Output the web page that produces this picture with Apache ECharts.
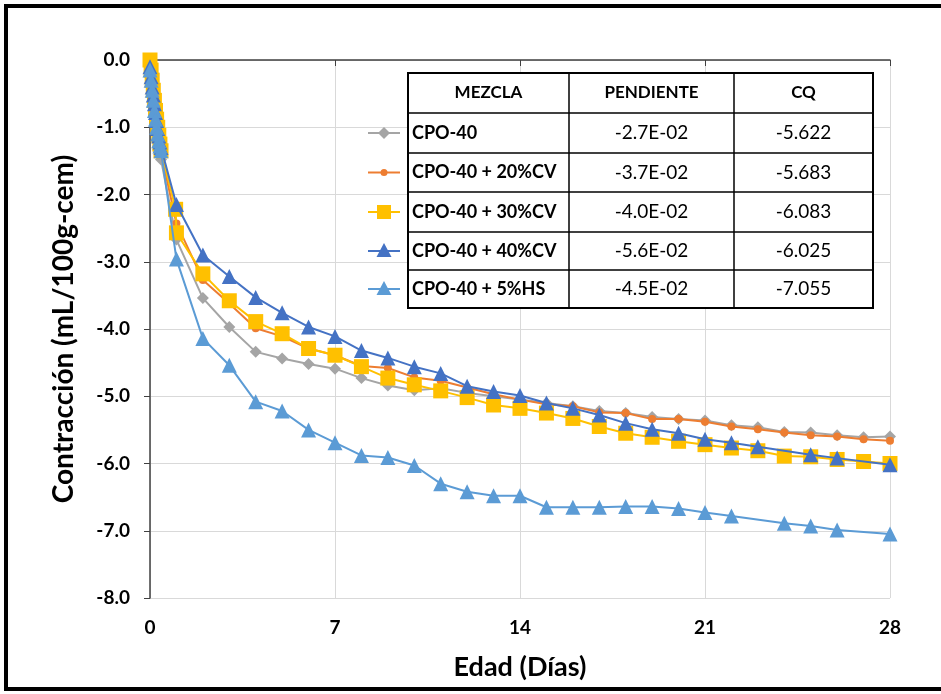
<!DOCTYPE html>
<html><head><meta charset="utf-8">
<script src="https://cdn.jsdelivr.net/npm/echarts@6/dist/echarts.min.js"></script>
<style>html,body{margin:0;padding:0;background:#fff}#c{width:941px;height:694px}</style>
</head><body><div id="c"></div>
<script>
// ---- data ----
const seriesNames = ['CPO-40','CPO-40 + 20%CV','CPO-40 + 30%CV','CPO-40 + 40%CV','CPO-40 + 5%HS'];
const earlyDays = [0,0.042,0.083,0.125,0.167,0.208,0.25,0.292,0.333,0.375,0.417];
const days = [1,2,3,4,5,6,7,8,9,10,11,12,13,14,15,16,17,18,19,20,21,22,23,24,25,26,27,28];

const grayEarly   = [-0.05,-0.2,-0.35,-0.5,-0.65,-0.8,-0.95,-1.1,-1.25,-1.38,-1.48];
const grayDays    = [-2.67,-3.54,-3.97,-4.34,-4.44,-4.52,-4.59,-4.73,-4.84,-4.91,-4.88,-4.95,-5.00,-5.05,-5.10,-5.15,-5.22,-5.25,-5.31,-5.34,-5.36,-5.43,-5.46,-5.53,-5.54,-5.58,-5.61,-5.60];

const orangeEarly = [-0.05,-0.18,-0.33,-0.48,-0.62,-0.77,-0.9,-1.03,-1.17,-1.28,-1.38];
const orangeDays  = [-2.43,-3.27,-3.62,-3.99,-4.11,-4.29,-4.39,-4.55,-4.58,-4.72,-4.77,-4.87,-4.97,-5.05,-5.12,-5.15,-5.24,-5.25,-5.34,-5.34,-5.38,-5.45,-5.49,-5.54,-5.58,-5.60,-5.64,-5.66];

const yellowEarly = [0,-0.15,-0.3,-0.45,-0.6,-0.75,-0.88,-1.0,-1.12,-1.25,-1.35];
const yellowExtraDay = 0.97, yellowExtraVal = -2.22;
const yellowDays  = [-2.57,-3.18,-3.58,-3.89,-4.07,-4.29,-4.39,-4.56,-4.73,-4.83,-4.92,-5.02,-5.13,-5.18,-5.25,-5.33,-5.45,-5.55,-5.61,-5.67,-5.72,-5.77,-5.81,-5.89,-5.90,-5.94,-5.97,-6.00];

const dblueEarly  = [-0.1,-0.25,-0.4,-0.52,-0.65,-0.78,-0.9,-1.02,-1.13,-1.22,-1.3];
// null = no measurement shown at that day
const dblueDays   = [-2.15,-2.90,-3.22,-3.53,-3.76,-3.97,-4.11,-4.32,-4.43,-4.56,-4.66,-4.85,-4.93,-4.99,-5.10,-5.18,-5.28,-5.40,-5.49,-5.55,-5.64,-5.69,-5.75,null,-5.87,-5.92,null,-6.02];

const lblueEarly  = [-0.15,-0.3,-0.45,-0.6,-0.75,-0.88,-1.0,-1.1,-1.2,-1.28,-1.35];
const lblueDays   = [-2.96,-4.14,-4.54,-5.08,-5.22,-5.50,-5.69,-5.88,-5.91,-6.03,-6.30,-6.42,-6.48,-6.48,-6.65,-6.65,-6.65,-6.64,-6.64,-6.67,-6.73,-6.78,null,-6.89,-6.93,-6.99,null,-7.05];

const tableHeader = ['MEZCLA','PENDIENTE','CQ'];
const pendiente = ['-2.7E-02','-3.7E-02','-4.0E-02','-5.6E-02','-4.5E-02'];
const cq = ['-5.622','-5.683','-6.083','-6.025','-7.055'];

const yTicks = {min:-8, max:0, interval:1};
const xTicks = {min:0, max:28, interval:7};

// ---- build ----
function pts(early, dayVals, extra){
  const out = [];
  early.forEach((v,i)=>out.push([earlyDays[i], v]));
  if (extra) out.push(extra);
  dayVals.forEach((v,i)=>{ if (v !== null) out.push([days[i], v]); });
  return out;
}
const FONT = 'Lato, "Open Sans", sans-serif';
const styles = [
  {color:'#A5A5A5', symbol:'diamond', size:12},
  {color:'#ED7D31', symbol:'circle', size:8},
  {color:'#FFC000', symbol:'rect', size:15},
  {color:'#4472C4', symbol:'triangle', size:15},
  {color:'#5B9BD5', symbol:'triangle', size:15}
];
const dataSets = [
  pts(grayEarly, grayDays),
  pts(orangeEarly, orangeDays),
  pts(yellowEarly, yellowDays, [yellowExtraDay, yellowExtraVal]),
  pts(dblueEarly, dblueDays),
  pts(lblueEarly, lblueDays)
];
const series = seriesNames.map((n,i)=>({
  name:n, type:'line', data:dataSets[i],
  symbol:styles[i].symbol, symbolSize:styles[i].size,
  lineStyle:{color:styles[i].color, width:2},
  itemStyle:{color:styles[i].color},
  animation:false, z:2+i
}));

// table graphics
const colX = [408,569,734,873];
const rowY = [73,113,153,192,232,270,308];
const g = [];
g.push({type:'rect', shape:{x:6,y:6,width:980,height:683}, style:{fill:null, stroke:'#000', lineWidth:4}, z:100});
g.push({type:'rect', shape:{x:colX[0],y:rowY[0],width:colX[3]-colX[0],height:rowY[6]-rowY[0]}, style:{fill:'#fff', stroke:'#000', lineWidth:2}, z:50});
for (let r=1;r<6;r++) g.push({type:'line', shape:{x1:colX[0],y1:rowY[r],x2:colX[3],y2:rowY[r]}, style:{stroke:'#000', lineWidth:1.5}, z:51});
for (let c=1;c<3;c++) g.push({type:'line', shape:{x1:colX[c],y1:rowY[0],x2:colX[c],y2:rowY[6]}, style:{stroke:'#000', lineWidth:1.5}, z:51});
tableHeader.forEach((t,c)=>g.push({type:'text', x:(colX[c]+colX[c+1])/2, y:(rowY[0]+rowY[1])/2,
  style:{text:t, font:'bold 17px '+FONT, fill:'#000', align:'center', verticalAlign:'middle'}, z:52}));
seriesNames.forEach((n,r)=>{
  const cy=(rowY[r+1]+rowY[r+2])/2;
  g.push({type:'text', x:colX[0]+4, y:cy, style:{text:n, font:'bold 18px '+FONT, fill:'#000', align:'left', verticalAlign:'middle'}, z:52});
  g.push({type:'text', x:(colX[1]+colX[2])/2, y:cy, style:{text:pendiente[r], font:'19px '+FONT, fill:'#000', align:'center', verticalAlign:'middle'}, z:52});
  g.push({type:'text', x:(colX[2]+colX[3])/2, y:cy, style:{text:cq[r], font:'19px '+FONT, fill:'#000', align:'center', verticalAlign:'middle'}, z:52});
  // legend key
  const col = styles[r].color, lx1 = 368, lx2 = 400, mx = 384;
  g.push({type:'line', shape:{x1:lx1,y1:cy,x2:lx2,y2:cy}, style:{stroke:col, lineWidth:2}, z:52});
  let mk;
  if (styles[r].symbol==='diamond') mk = {type:'polygon', shape:{points:[[mx,cy-6],[mx+6,cy],[mx,cy+6],[mx-6,cy]]}};
  else if (styles[r].symbol==='circle') mk = {type:'circle', shape:{cx:mx,cy:cy,r:3.5}};
  else if (styles[r].symbol==='rect') mk = {type:'rect', shape:{x:mx-7,y:cy-7,width:14,height:14}};
  else mk = {type:'polygon', shape:{points:[[mx,cy-8],[mx+7.5,cy+6],[mx-7.5,cy+6]]}};
  mk.style = {fill:col}; mk.z = 53;
  g.push(mk);
});

const chart = echarts.init(document.getElementById('c'), null, {renderer:'canvas'});
chart.setOption({
  animation:false,
  backgroundColor:'#fff',
  grid:{left:150, right:51, top:60, bottom:96},
  xAxis:{
    type:'value', min:xTicks.min, max:xTicks.max, interval:xTicks.interval,
    name:'Edad (Días)', nameLocation:'middle', nameGap:56,
    nameTextStyle:{fontFamily:FONT, fontWeight:'bold', fontSize:27, color:'#000'},
    axisLine:{show:true, lineStyle:{color:'#404040', width:1.5}},
    axisTick:{show:true, length:6, lineStyle:{color:'#404040'}},
    axisLabel:{fontFamily:FONT, fontWeight:'bold', fontSize:19, color:'#000', margin:20},
    splitLine:{show:true, lineStyle:{color:'#D9D9D9', width:1}}
  },
  yAxis:{
    type:'value', min:yTicks.min, max:yTicks.max, interval:yTicks.interval,
    name:'Contracción (mL/100g-cem)', nameLocation:'middle', nameGap:72,
    nameTextStyle:{fontFamily:FONT, fontWeight:'bold', fontSize:28, color:'#000'},
    axisLine:{show:true, lineStyle:{color:'#404040', width:1.5}},
    axisTick:{show:true, length:6, lineStyle:{color:'#404040'}},
    axisLabel:{fontFamily:FONT, fontWeight:'bold', fontSize:19, color:'#000', margin:20, formatter:v=>v.toFixed(1)},
    splitLine:{show:true, lineStyle:{color:'#D9D9D9', width:1}}
  },
  series:series,
  graphic:g
});
</script></body></html>
